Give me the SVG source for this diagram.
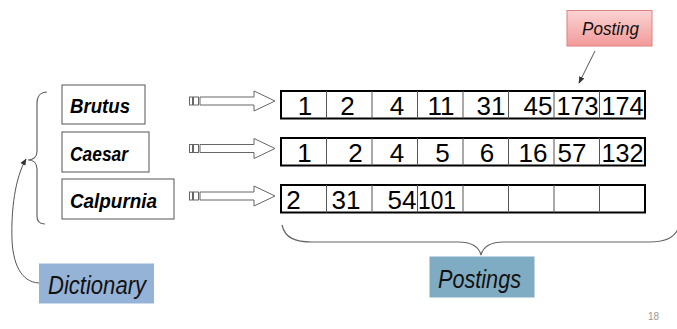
<svg xmlns="http://www.w3.org/2000/svg" width="677" height="329" viewBox="0 0 677 329">
  <style>
    .dict rect { fill: #ffffff; stroke: #555555; stroke-width: 1; }
    .dict text { font-family: "Liberation Sans", Arial, sans-serif; font-weight: bold; font-style: italic; font-size: 21px; fill: #000000; }
    .list .frame { fill: #ffffff; stroke: #000000; stroke-width: 2; }
    .list .cell { stroke: #555555; stroke-width: 1; }
    .list text { font-family: "Liberation Sans", Arial, sans-serif; font-size: 26px; fill: #000000; text-anchor: middle; }
    .pointer { fill: #ffffff; stroke: #666666; stroke-width: 1; }
    .brace { fill: none; stroke: #666666; stroke-width: 1.2; }
    .label text { font-family: "Liberation Sans", Arial, sans-serif; font-style: italic; fill: #111111; }
  </style>
  <defs>
    <marker id="head" viewBox="0 0 10 10" refX="9" refY="5" markerWidth="7" markerHeight="7" orient="auto" markerUnits="userSpaceOnUse">
      <path d="M0,1 L10,5 L0,9 z" fill="#333333"/>
    </marker>
    <linearGradient id="pink" x1="0" y1="0" x2="0" y2="1">
      <stop offset="0" stop-color="#fbd3d3"/>
      <stop offset="1" stop-color="#f29a9a"/>
    </linearGradient>
    <!-- striped block arrow, drawn at origin and moved per row -->
    <g id="striped">
      <rect x="189.5" y="-4" width="3" height="8" class="pointer"/>
      <rect x="193.5" y="-4" width="5" height="8" class="pointer"/>
      <path d="M200,-4 L254,-4 L254,-10 L275,0 L254,10 L254,4 L200,4 z" class="pointer"/>
    </g>
  </defs>

  <rect x="0" y="0" width="677" height="329" fill="#ffffff"/>

  <!-- dictionary terms -->
  <g id="term-brutus" class="dict">
    <rect x="62" y="85" width="83" height="39"/>
    <text x="70" y="113" textLength="60" lengthAdjust="spacingAndGlyphs">Brutus</text>
  </g>
  <g id="term-caesar" class="dict">
    <rect x="62" y="132" width="87" height="40"/>
    <text x="70" y="161" textLength="58" lengthAdjust="spacingAndGlyphs">Caesar</text>
  </g>
  <g id="term-calpurnia" class="dict">
    <rect x="62" y="179" width="112" height="40"/>
    <text x="70" y="208" textLength="87" lengthAdjust="spacingAndGlyphs">Calpurnia</text>
  </g>

  <!-- postings lists -->
  <g id="list-brutus" class="list">
    <rect class="frame" x="281" y="91" width="364" height="27.5"/>
    <path class="cell" d="M326.5,91v27.5M372,91v27.5M417.5,91v27.5M463,91v27.5M508.5,91v27.5M554,91v27.5M599.5,91v27.5"/>
    <text x="305" y="114.5">1</text>
    <text x="347.5" y="114.5">2</text>
    <text x="397" y="114.5">4</text>
    <text x="441" y="114.5">11</text>
    <text x="491" y="114.5">31</text>
    <text x="538" y="114.5">45</text>
    <text x="577.5" y="114.5" textLength="42" lengthAdjust="spacingAndGlyphs">173</text>
    <text x="622.5" y="114.5" textLength="42" lengthAdjust="spacingAndGlyphs">174</text>
  </g>
  <g id="list-caesar" class="list">
    <rect class="frame" x="281" y="138" width="364" height="27.5"/>
    <path class="cell" d="M326.5,138v27.5M372,138v27.5M417.5,138v27.5M463,138v27.5M508.5,138v27.5M554,138v27.5M599.5,138v27.5"/>
    <text x="304.5" y="161.5">1</text>
    <text x="355.5" y="161.5">2</text>
    <text x="397" y="161.5">4</text>
    <text x="442.5" y="161.5">5</text>
    <text x="487" y="161.5">6</text>
    <text x="533" y="161.5">16</text>
    <text x="572" y="161.5">57</text>
    <text x="622.5" y="161.5" textLength="42" lengthAdjust="spacingAndGlyphs">132</text>
  </g>
  <g id="list-calpurnia" class="list">
    <rect class="frame" x="281" y="185" width="364" height="27.5"/>
    <path class="cell" d="M326.5,185v27.5M372,185v27.5M417.5,185v27.5M463,185v27.5M508.5,185v27.5M554,185v27.5M599.5,185v27.5"/>
    <text x="293.5" y="208.5">2</text>
    <text x="346" y="208.5">31</text>
    <text x="402" y="208.5">54</text>
    <text x="437" y="208.5" textLength="38" lengthAdjust="spacingAndGlyphs">101</text>
  </g>

  <!-- labels -->
  <g id="label-posting" class="label">
    <rect x="567" y="10.5" width="85" height="35.5" fill="url(#pink)" stroke="#e08080" stroke-width="1"/>
    <text x="582" y="35" font-size="18" textLength="57" lengthAdjust="spacingAndGlyphs">Posting</text>
  </g>
  <g id="label-dictionary" class="label">
    <rect x="39" y="263.5" width="115" height="40" fill="#95b3d7"/>
    <text x="48" y="294" font-size="26" textLength="98" lengthAdjust="spacingAndGlyphs">Dictionary</text>
  </g>
  <g id="label-postings" class="label">
    <rect x="429.5" y="256.5" width="105" height="41" fill="#80acc3"/>
    <text x="438" y="288" font-size="25" textLength="83" lengthAdjust="spacingAndGlyphs">Postings</text>
  </g>

  <!-- connectors -->
  <g id="connectors">
    <use href="#striped" y="101"/>
    <use href="#striped" y="148.5"/>
    <use href="#striped" y="196"/>
    <path class="brace" d="M47,92 C41,92 37,96 37,103 L37,151 C37,156 34,160 28,160 C34,160 37,164 37,169 L37,216 C37,221 40,224 45,224"/>
    <path class="brace" d="M282,225 C285,238 295,242 312,242 L458,242 C472,242 479,247 481,255 C483,247 490,242 504,242 L650,242 C665,242 674,238 678,229"/>
    <path d="M39,283 C20,282 13,262 12,240 C11,210 15,178 26,159" fill="none" stroke="#555555" stroke-width="1" marker-end="url(#head)"/>
    <path d="M595,51 L579,83" fill="none" stroke="#555555" stroke-width="1" marker-end="url(#head)"/>
  </g>

  <text x="648" y="320" font-family="Liberation Sans, Arial, sans-serif" font-size="10" fill="#999999">18</text>
</svg>
